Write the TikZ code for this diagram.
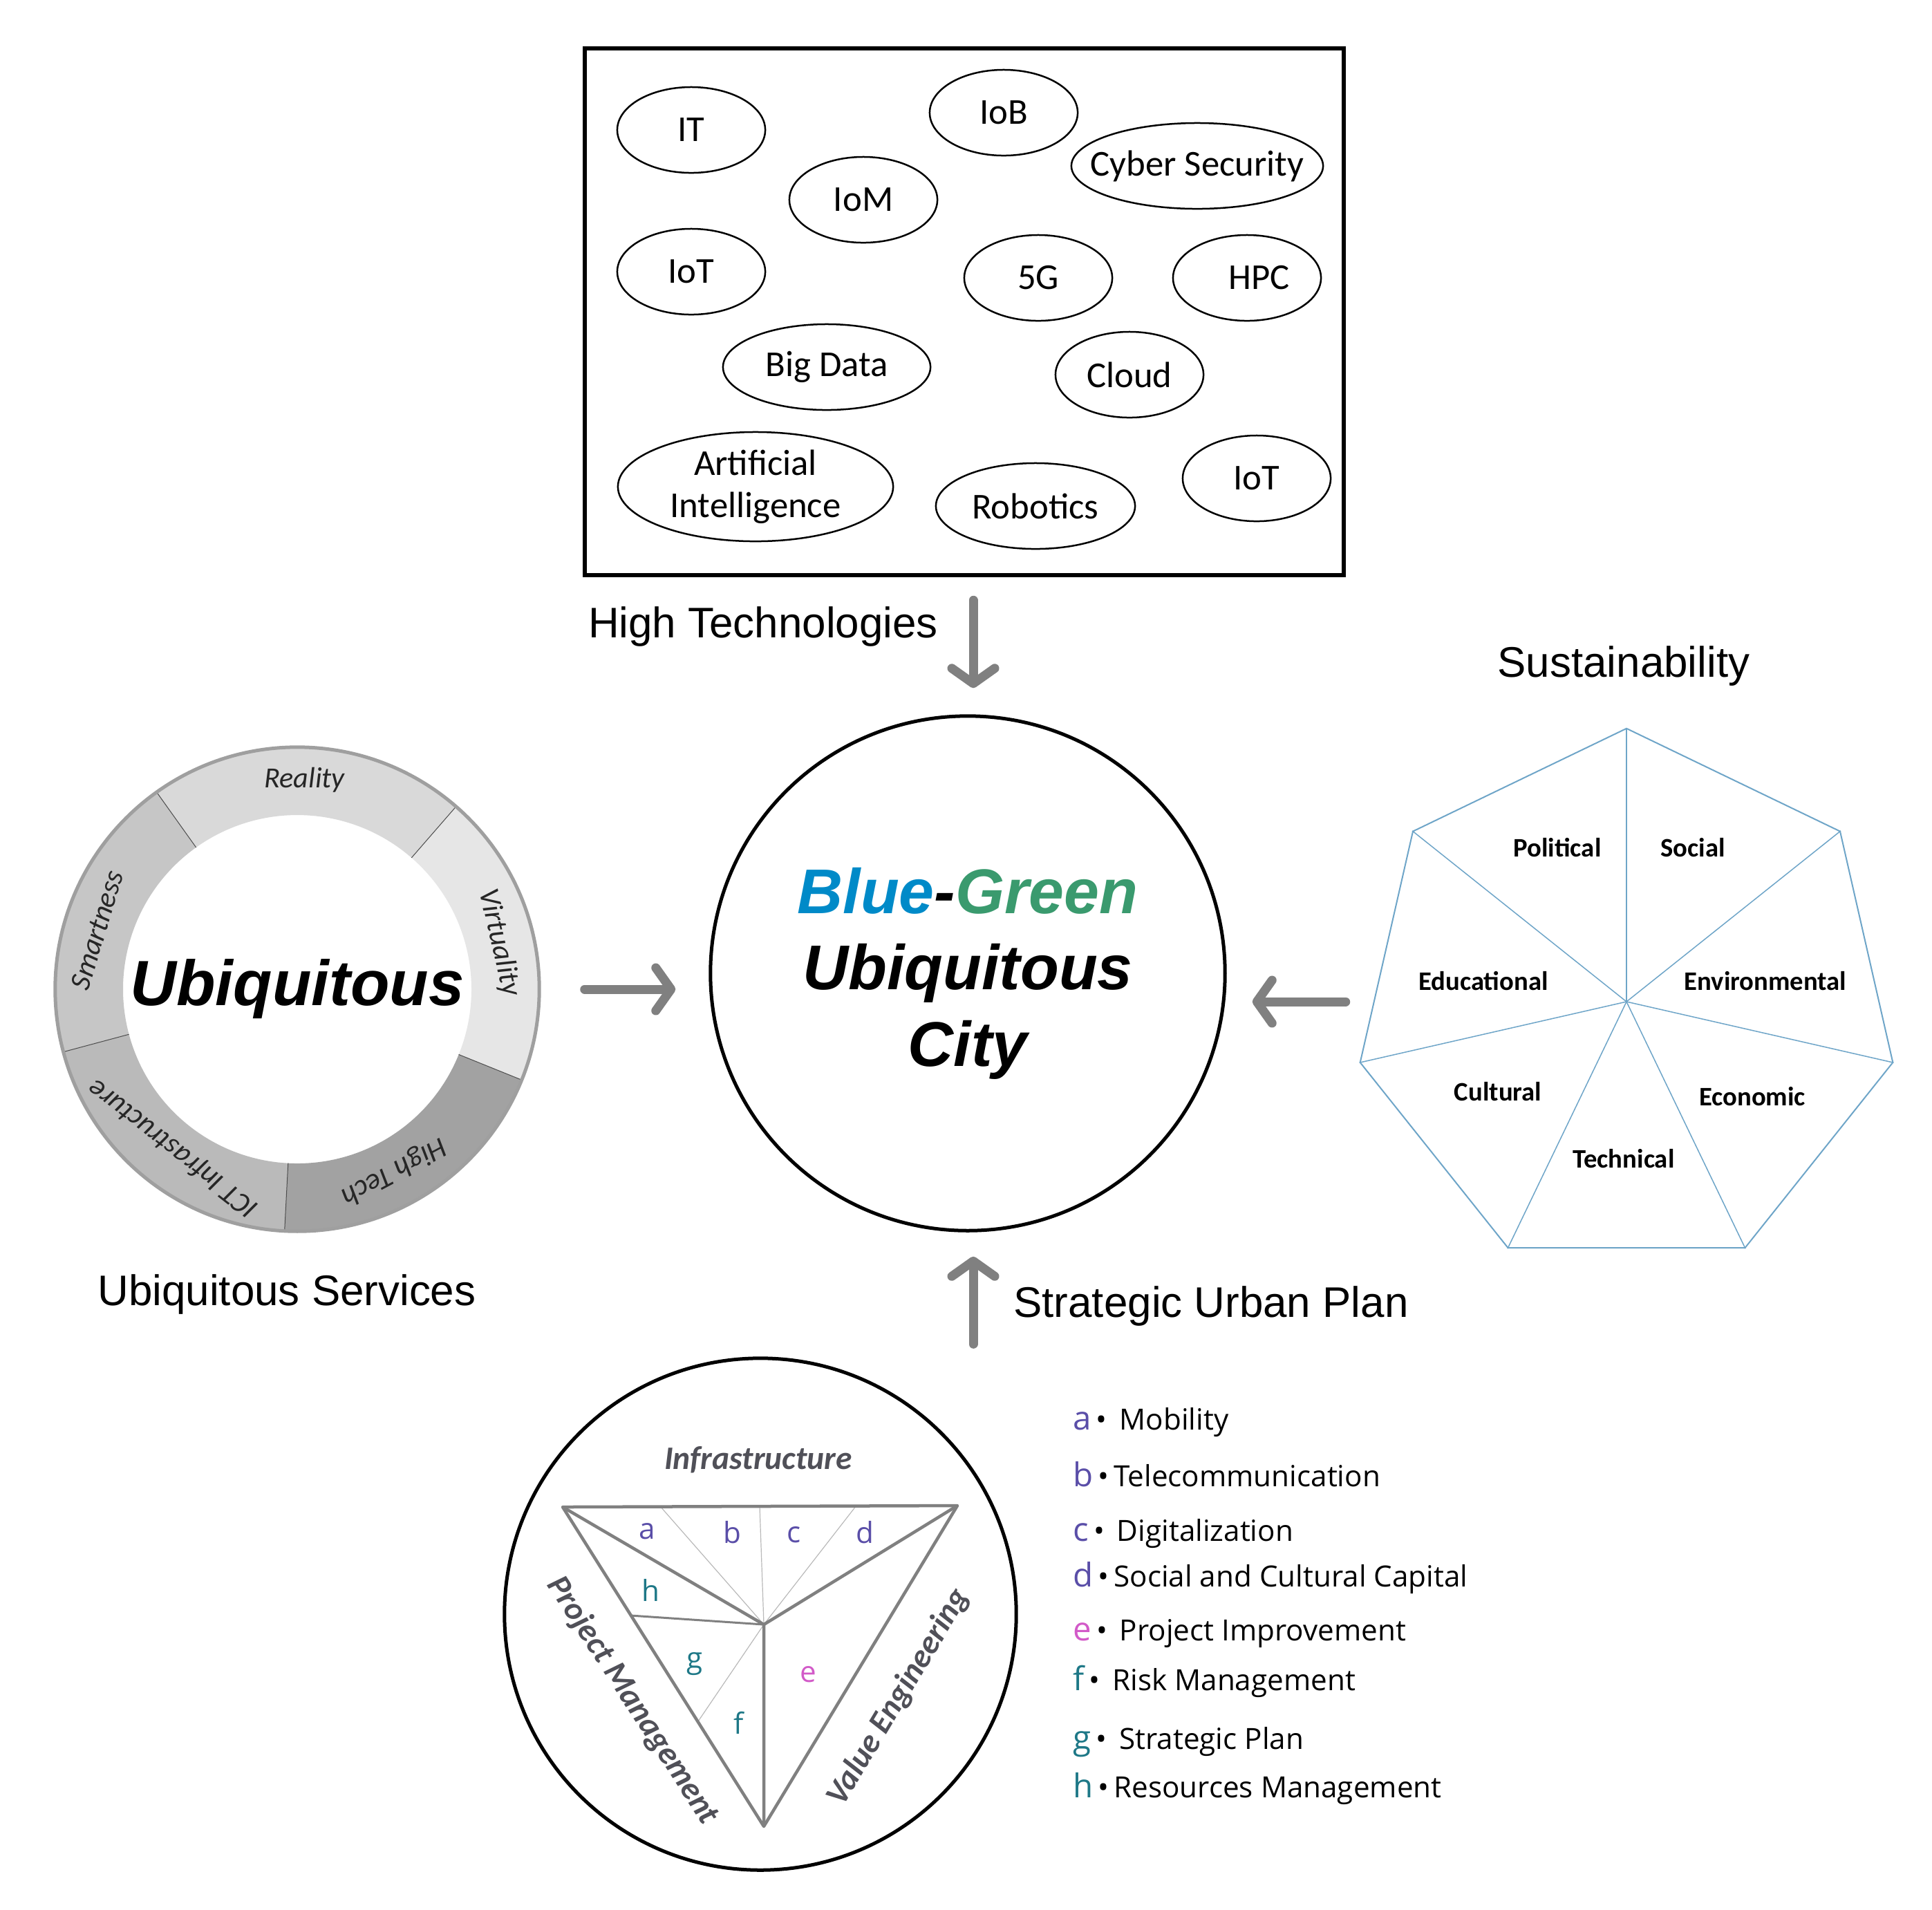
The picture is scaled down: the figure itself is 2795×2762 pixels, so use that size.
\documentclass[tikz,border=0pt]{standalone}
\usepackage{fontspec}
\setmainfont{Carlito}
\newfontfamily\arialfont{Liberation Sans}
\newfontfamily\segoefont{Open Sans}
\usetikzlibrary{arrows.meta,shapes.geometric}

\definecolor{bgblue}{RGB}{0,138,200}
\definecolor{bggreen}{RGB}{58,154,110}
\definecolor{arrowgray}{RGB}{128,128,128}
\definecolor{heptblue}{RGB}{110,165,200}
\definecolor{abcd}{RGB}{90,78,168}
\definecolor{emag}{RGB}{210,90,200}
\definecolor{fgh}{RGB}{30,120,135}
\definecolor{trigray}{RGB}{128,128,128}
\definecolor{labgray}{RGB}{80,80,88}
\definecolor{ringA}{RGB}{217,217,217}
\definecolor{ringB}{RGB}{198,198,198}
\definecolor{ringC}{RGB}{186,186,186}
\definecolor{ringD}{RGB}{162,162,162}
\definecolor{ringE}{RGB}{230,230,230}

\newcommand{\legkey}[2]{\textcolor{#1}{\fontsize{13.5}{14}\selectfont #2}\,•\,}

\begin{document}
\begin{tikzpicture}[x=0.01cm, y=0.01cm,
  caption/.style={font=\arialfont\fontsize{17.6}{21}\selectfont},
  tech/.style={ellipse, draw, line width=0.025cm, inner xsep=-0.8cm, inner ysep=0pt, minimum width=2.14cm, minimum height=1.24cm, font=\fontsize{15}{17.5}\selectfont},
  flow/.style={draw=arrowgray, line width=0.13cm, line cap=round, -{Straight Barb[length=0.22cm, width=0.62cm, round]}},
  hub/.style={circle, draw, line width=0.05cm, inner sep=0pt},
  seg/.style={draw=gray!60!black, line width=0.01cm},
  ringlbl/.style={font=\itshape\fontsize{12}{14}\selectfont, text=black!85},
  facet/.style={font=\bfseries\fontsize{11}{13}\selectfont},
  triedge/.style={draw=trigray, line width=0.045cm, line join=round},
  trimid/.style={draw=trigray, line width=0.03cm},
  trithin/.style={draw=gray!55, line width=0.012cm},
  tri letter/.style={font=\segoefont\fontsize{12}{14}\selectfont},
  side/.style={font=\bfseries\itshape\fontsize{13.5}{16}\selectfont, text=labgray},
  legend/.style={anchor=base west, font=\segoefont\fontsize{12}{14}\selectfont}]
\useasboundingbox (0,0) rectangle (2795,-2762);

% high technologies
\node[draw, line width=0.06cm, minimum width=10.98cm, minimum height=7.62cm] (techbox) at (1395,-451) {};
\node[tech] (it) at (1000,-188) {IT};
\node[tech] (iob) at (1452,-163) {IoB};
\node[tech, minimum width=3.64cm] (cyber) at (1732,-240) {Cyber Security};
\node[tech] (iom) at (1249,-289) {IoM};
\node[tech] (iot) at (1000,-393) {IoT};
\node[tech] (fiveg) at (1502,-402) {5G};
\node[tech] (hpc) at (1804,-402) {\hspace{0.35cm}HPC};
\node[tech, minimum width=3cm] (bigdata) at (1196,-531) {Big Data};
\node[tech] (cloud) at (1634,-542) {Cloud};
\node[tech, minimum width=3.98cm, minimum height=1.58cm, align=center] (ai) at (1093,-704) {Artificial\\Intelligence};
\node[tech, minimum width=2.88cm] (robotics) at (1498,-732) {Robotics};
\node[tech] (iot2) at (1818,-692) {IoT};
\node[caption] (hightech) at (1104,-906) {High Technologies};

% centre
\node[hub, minimum size=7.44cm, align=center, font=\arialfont\bfseries\itshape\fontsize{26}{31.4}\selectfont] (city) at (1400,-1408)
  {\textcolor{bgblue}{Blue}-\textcolor{bggreen}{Green}\\Ubiquitous\\City};

% ubiquitous services ring
\begin{scope}[shift={(430,-1431)}]
  \foreach \a/\b/\c in {49/125.5/ringA, 125.5/195/ringB, 195/267/ringC, 267/338/ringD, 338/409/ringE}
    \fill[\c] (\a:350) arc[start angle=\a, end angle=\b, radius=350] -- (\b:252) arc[start angle=\b, end angle=\a, radius=252] -- cycle;
  \foreach \a in {49,125.5,195,267,338}
    \draw[seg] (\a:252) -- (\a:350);
  \node[ringlbl] at (88:303) {Reality};
  \node[ringlbl, rotate=-77] at (13:300) {Virtuality};
  \node[ringlbl, rotate=-152] at (-62:298) {High Tech};
  \node[ringlbl, rotate=142] at (-128:292) {ICT Infrastructure};
  \node[ringlbl, rotate=73] at (163.5:302) {Smartness};
\end{scope}
\node[circle, draw=gray!75, line width=0.05cm, minimum size=7cm, inner sep=0pt, font=\arialfont\bfseries\itshape\fontsize{26.3}{31}\selectfont] (ring) at (430,-1431) {Ubiquitous};
\node[caption] (servcap) at (415,-1872) {Ubiquitous Services};

% sustainability
\node[regular polygon, regular polygon sides=7, minimum size=7.9cm, draw=heptblue, line width=0.02cm, inner sep=0pt] (sust) at (2353,-1449) {};
\foreach \k in {1,...,7}
  \draw[heptblue, line width=0.015cm] (sust.center) -- (sust.corner \k);
\node[facet] at (2253,-1226) {Political};
\node[facet] at (2449,-1226) {Social};
\node[facet] at (2146,-1419) {Educational};
\node[facet] at (2554,-1419) {Environmental};
\node[facet] at (2167,-1579) {Cultural};
\node[facet] at (2535,-1586) {Economic};
\node[facet] at (2349,-1676) {Technical};
\node[caption] (sustcap) at (2349,-963) {Sustainability};

% strategic urban plan
\node[hub, minimum size=7.4cm] (plan) at (1100,-2335) {};
\coordinate (tl) at (814,-2180);
\coordinate (tr) at (1385,-2178);
\coordinate (tb) at (1105,-2642);
\coordinate (tc) at (1105,-2350);
\draw[trithin] (tc) -- (956,-2180) (tc) -- (1099,-2179) (tc) -- (1238,-2179) (tc) -- (1010,-2490);
\draw[trimid] (tc) -- (913,-2337);
\draw[triedge] (tl) -- (tr) -- (tb) -- cycle;
\draw[triedge] (tl) -- (tc) -- (tr) (tc) -- (tb);
\node[tri letter, text=abcd] at (936,-2215) {a};
\node[tri letter, text=abcd] at (1059,-2217) {b};
\node[tri letter, text=abcd] at (1149,-2220) {c};
\node[tri letter, text=abcd] at (1251,-2217) {d};
\node[tri letter, text=emag] at (1169,-2422) {e};
\node[tri letter, text=fgh] at (1069,-2492) {f};
\node[tri letter, text=fgh] at (1005,-2407) {g};
\node[tri letter, text=fgh] at (941,-2300) {h};
\node[side] at (1097,-2112) {Infrastructure};
\node[side, rotate=-57] at (915,-2460) {Project Management};
\node[side, rotate=59] at (1300,-2455) {Value Engineering};
\node[caption] (plancap) at (1752,-1889) {Strategic Urban Plan};

% legend
\node[legend] (leg-a) at (1540,-2068) {\legkey{abcd}{a} Mobility};
\node[legend] (leg-b) at (1540,-2150) {\legkey{abcd}{b}Telecommunication};
\node[legend] (leg-c) at (1540,-2229) {\legkey{abcd}{c} Digitalization};
\node[legend] (leg-d) at (1540,-2295) {\legkey{abcd}{d}Social and Cultural Capital};
\node[legend] (leg-e) at (1540,-2373) {\legkey{emag}{e} Project Improvement};
\node[legend] (leg-f) at (1540,-2445) {\legkey{fgh}{f} Risk Management};
\node[legend] (leg-g) at (1540,-2530) {\legkey{fgh}{g} Strategic Plan};
\node[legend] (leg-h) at (1540,-2600) {\legkey{fgh}{h}Resources Management};

% arrows into the city
\draw[flow, shorten <=0.33cm, shorten >=0.38cm] ([xshift=0.08cm]techbox.south -| city) -- ([xshift=0.08cm]city.north);
\draw[flow, shorten <=0.63cm, shorten >=0.48cm] (ring.east) -- (ring.east -| city.west);
\draw[flow, shorten <=0.4cm, shorten >=0.37cm] (sust.west) -- (sust.west -| city.east);
\draw[flow, shorten <=0.18cm, shorten >=0.35cm] ([xshift=0.08cm]plan.north -| city) -- ([xshift=0.08cm]city.south);
\end{tikzpicture}
\end{document}
